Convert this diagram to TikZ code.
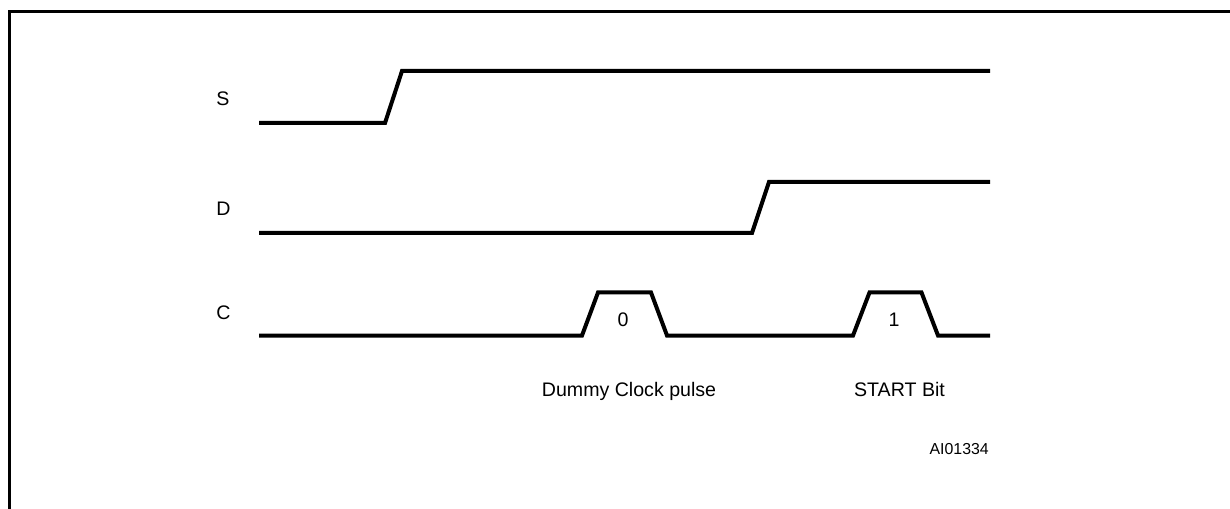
\documentclass[tikz,border=0pt]{standalone}
\usepackage{fontspec}
\setmainfont{Liberation Sans}
\begin{document}
\begin{tikzpicture}[x=0.75pt,y=-0.75pt,
  sig/.style={line width=3pt,line join=miter,line cap=butt},
  frame/.style={line width=2.2pt},
  lbl/.style={inner sep=0pt,font=\fontsize{14.7}{17}\selectfont},
  code/.style={inner sep=0pt,font=\fontsize{11.9}{14}\selectfont}]
\useasboundingbox (0,0) rectangle (1230,509);
\draw[frame] (9.5,509) -- (9.5,11.5) -- (1230,11.5);
% labels
\node[lbl,anchor=base west] (lS) at (216,105.5) {S};
\node[lbl,anchor=base west] (lD) at (216,216) {D};
\node[lbl,anchor=base west] (lC) at (216,319.5) {C};
\node[lbl,anchor=base] (n0) at (623,326.5) {0};
\node[lbl,anchor=base] (n1) at (894,326.5) {1};
\node[lbl,anchor=base] (dummy) at (629,396) {Dummy Clock pulse};
\node[lbl,anchor=base] (start) at (899.5,396) {START Bit};
\node[code,anchor=base east] (ai) at (989,454.3) {AI01334};
% signals
\draw[sig] (259,123) -- (385,123) -- (402,71) -- (990,71);
\draw[sig] (259,233) -- (752,233) -- (769,182) -- (990,182);
\draw[sig] (259,335.5) -- (582,335.5) -- (598,292.5) -- (651,292.5) -- (667,335.5)
  -- (853,335.5) -- (869.5,292.5) -- (921.5,292.5) -- (938,335.5) -- (990,335.5);
\end{tikzpicture}
\end{document}
